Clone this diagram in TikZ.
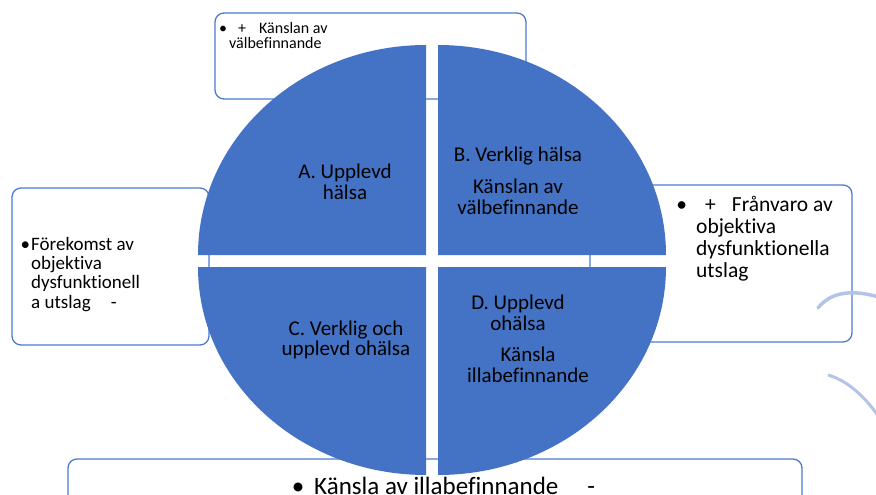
\documentclass[tikz,border=0pt]{standalone}
\usepackage{fontspec}
\setmainfont{Carlito}[Ligatures=NoCommon]
\definecolor{kvadrant}{HTML}{4472C4}
\definecolor{ram}{HTML}{4A7BD0}
\definecolor{bage}{HTML}{B4C3E8}
\tikzset{ruta/.style={draw=ram,line width=1.3pt,fill=white,rounded corners=9pt},
	kvtext/.style={align=center,text=black,inner sep=0pt,font=\fontsize{21}{20.5}\selectfont},
	rutext/.style={align=left,text=black,inner sep=0pt,anchor=base west}}
\begin{document}
\begin{tikzpicture}[x=1pt,y=-1pt]
			\def\rx{228}\def\ryo{210}\def\ryu{208}
			\useasboundingbox (0,0) rectangle (876,495);
			\clip (0,0) rectangle (876,495);
			% rutor bakom cirkeln
			\draw[ruta](215,13) rectangle (526,99);
			\draw[ruta](12,188) rectangle (209,345);
			\draw[ruta](590,185) rectangle (852,342);
			\draw[ruta](68,459) rectangle (802,530);
			\draw[bage,line width=3.5pt,line cap=round](818,308) .. controls (830,293) and (850,288) .. (882,298);
			\draw[bage,line width=3pt](828,375) .. controls (846,380) and (866,396) .. (882,422);
			% kvadranter
			\foreach \cx/\cy/\s/\e/\ry in {426/255/180/90/\ryo,438/255/0/90/\ryo,426/267/180/270/\ryu,438/267/0/-90/\ryu}
				\fill[kvadrant](\cx,\cy)--++(\s:\rx pt and \ry pt) arc[start angle=\s,end angle=\e,x radius=\rx pt,y radius=\ry pt]--cycle;
			\node[kvtext](a) at (345,182) {A. Upplevd\\hälsa};
			\node[kvtext](b) at (518,156) {B. Verklig hälsa};
			\node[kvtext](bk) at (518,197) {Känslan av\\välbefinnande};
			\node[kvtext](c) at (346,340) {C. Verklig och\\upplevd ohälsa};
			\node[kvtext](d) at (518,313) {D. Upplevd\\ohälsa};
			\node[kvtext](dk) at (528,365) {Känsla\\illabefinnande};
			% texter i rutorna (base = sista raden)
			\node[rutext,font=\fontsize{16}{15}\selectfont](topp) at (229,49) {\llap{•\hspace{2pt}}\hspace{9pt}+\hspace{13pt}Känslan av\\välbefinnande};
			\node[rutext,font=\fontsize{19}{19.3}\selectfont](vanster) at (31,308) {\llap{•\hspace{1pt}}Förekomst av\\objektiva\\dysfunktionell\\a utslag\hspace{20pt}-};
			\node[rutext,font=\fontsize{21.5}{22}\selectfont](hoger) at (696,277) {\llap{•\hspace{9pt}}\hspace{9pt}+\hspace{16pt}Frånvaro av\\objektiva\\dysfunktionella\\utslag};
			\node[rutext,font=\fontsize{25}{25}\selectfont](botten) at (314,494) {\llap{•\hspace{10pt}}Känsla av illabefinnande\hspace{29pt}-};
		\end{tikzpicture}
\end{document}
